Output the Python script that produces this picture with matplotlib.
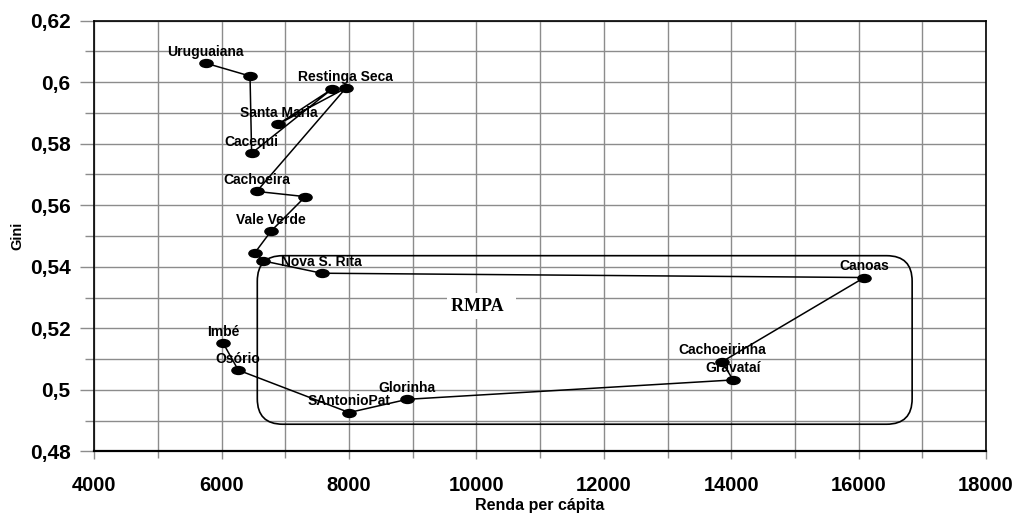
import matplotlib
matplotlib.use("Agg")
import matplotlib.pyplot as plt
import numpy as np
from matplotlib.path import Path
from matplotlib.patches import FancyBboxPatch
from matplotlib.ticker import MultipleLocator, FuncFormatter

# Data in drawing (path) order
renda = [5750, 6445, 6470, 7727, 6890, 7950, 6550, 7313, 6775, 6523, 6653,
         7570, 16090, 13855, 14030, 8915, 8000, 6260, 6025]
gini = [0.6062, 0.6020, 0.5769, 0.5977, 0.5864, 0.5981, 0.5645, 0.5628, 0.5516,
        0.5446, 0.5419, 0.5379, 0.5365, 0.5091, 0.5032, 0.4969, 0.4926, 0.5064, 0.5151]
labels = ["Uruguaiana", "", "Cacequi", "", "Santa Maria", "Restinga Seca", "Cachoeira",
          "", "Vale Verde", "", "", "Nova S. Rita", "Canoas", "Cachoeirinha", "Gravataí",
          "Glorinha", "SAntonioPat", "Osório", "Imbé"]

# RMPA region box (data units)
rmpa_x = [6559, 16841]
rmpa_y = [0.4888, 0.5436]
rmpa_label = "RMPA"
rmpa_pos = (10024, 0.5272)

xlim = (4000, 18000)
ylim = (0.48, 0.62)

fig = plt.figure(figsize=(10.13, 5.14), dpi=100)
ax = fig.add_axes([0.0931, 0.122, 0.9733 - 0.0931, 0.9597 - 0.122])
ax.set_xlim(*xlim)
ax.set_ylim(*ylim)

grid_c = "#8c8c8c"
ax.xaxis.set_major_locator(MultipleLocator(2000))
ax.xaxis.set_minor_locator(MultipleLocator(1000))
ax.yaxis.set_major_locator(MultipleLocator(0.02))
ax.yaxis.set_minor_locator(MultipleLocator(0.01))
ax.grid(which="both", color=grid_c, lw=1.0)
ax.set_axisbelow(True)

fmt = FuncFormatter(lambda v, p: f"{round(v, 2):g}".replace(".", ","))
ax.yaxis.set_major_formatter(fmt)
ax.xaxis.set_major_formatter(FuncFormatter(lambda v, p: f"{int(round(v))}"))

ax.tick_params(axis="y", which="major", length=10, color=grid_c, width=1.0, pad=7,
               labelsize=15)
ax.tick_params(axis="y", which="minor", length=6.5, color=grid_c, width=1.0)
ax.tick_params(axis="x", which="major", length=6, color=grid_c, width=1.0, pad=12,
               labelsize=14.5)
ax.tick_params(axis="x", which="minor", length=5, color=grid_c, width=1.0)
for lab in ax.get_xticklabels() + ax.get_yticklabels():
    lab.set_fontfamily("Liberation Sans")
    lab.set_fontweight("bold")

for s in ax.spines.values():
    s.set_color("black")
    s.set_linewidth(1.2)
ax.spines["bottom"].set_linewidth(1.6)

# Rounded RMPA box
m_aspect = ((ylim[1] - ylim[0]) / 430.6) / ((xlim[1] - xlim[0]) / 891.7)
box = FancyBboxPatch((rmpa_x[0], rmpa_y[0]), rmpa_x[1] - rmpa_x[0], rmpa_y[1] - rmpa_y[0],
                     boxstyle="round,pad=0,rounding_size=400", mutation_aspect=m_aspect,
                     fc="none", ec="black", lw=1.2, zorder=2)
ax.add_patch(box)

ax.text(rmpa_pos[0], rmpa_pos[1], rmpa_label + "  ", family="Liberation Serif",
        weight="bold", fontsize=13, ha="left", va="center", zorder=3,
        transform=ax.transData,
        bbox=dict(boxstyle="square,pad=0.25", fc="white", ec="none"))
# shift so that the word is centred on rmpa_pos
ax.texts[-1].set_x(rmpa_pos[0] - 420)

# Ellipse marker
circ = Path.unit_circle()
ell = Path(circ.vertices * np.array([1.0, 0.6]), circ.codes)

ax.plot(renda, gini, color="black", lw=1.1, marker=ell, markersize=9.5,
        markerfacecolor="black", markeredgecolor="black", zorder=4)

for x, y, t in zip(renda, gini, labels):
    if t:
        ax.annotate(t, (x, y), xytext=(0, 8.3), textcoords="offset points",
                    ha="center", va="center", family="Liberation Sans",
                    weight="bold", fontsize=10, zorder=5)

ax.set_xlabel("Renda per cápita", family="Liberation Sans", weight="bold",
              fontsize=11.5, labelpad=2)
ax.set_ylabel("Gini", family="Liberation Sans", weight="bold", fontsize=10.5,
              labelpad=4)

fig.savefig("out.png", dpi=100)
